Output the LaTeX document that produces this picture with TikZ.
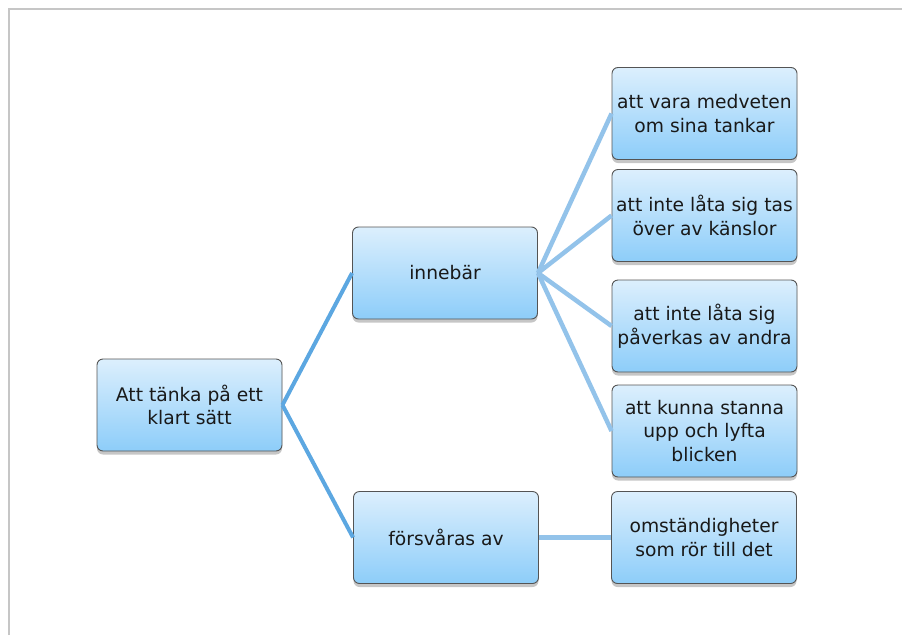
\documentclass[tikz,border=0pt]{standalone}
\usepackage{fontspec}
\setmainfont{DejaVu Sans}
\usetikzlibrary{shadows}
\definecolor{boxtop}{HTML}{DCEFFD}
\definecolor{boxbot}{HTML}{8DCDF9}
\definecolor{boxedge}{HTML}{545454}
\definecolor{linkdark}{HTML}{5CA7E1}
\definecolor{linklight}{HTML}{93C3EA}
\definecolor{frameline}{HTML}{C6C6C6}
\begin{document}
\begin{tikzpicture}[x=1pt,y=-1pt,
  itembox/.style={draw=boxedge, line width=0.9pt, rounded corners=6pt,
    top color=boxtop, bottom color=boxbot,
    minimum width=185pt, minimum height=92pt, align=center,
    text=black!90, inner sep=2pt,
    font=\fontsize{18.7}{23.5}\selectfont,
    drop shadow={shadow xshift=0pt, shadow yshift=-3.5pt, opacity=0.45}},
  linkA/.style={draw=linkdark, line width=4pt},
  linkB/.style={draw=linklight, line width=4.5pt}]
\useasboundingbox (0,0) rectangle (902,635);
% page frame
\draw[frameline, line width=2pt] (9,635) -- (9,9) -- (902,9);

% boxes
\node[itembox] (root) at (189.5,405) {Att tänka på ett\\klart sätt};
\node[itembox] (inneb) at (445,273) {innebär};
\node[itembox] (forsv) at (446,537.5) {försvåras av};
\node[itembox] (r1) at (704.5,113.5) {att vara medveten\\om sina tankar};
\node[itembox] (r2) at (704.5,215.5) {att inte låta sig tas\\över av känslor};
\node[itembox] (r3) at (704.5,326) {att inte låta sig\\påverkas av andra};
\node[itembox] (r4) at (704.5,431) {att kunna stanna\\upp och lyfta\\blicken};
\node[itembox] (r5) at (704,537.5) {omständigheter\\som rör till det};

% connectors
\draw[linkA] (root.east) -- (inneb.west);
\draw[linkA] (root.east) -- (forsv.west);
\draw[linkB] (inneb.east) -- (r1.west);
\draw[linkB] (inneb.east) -- (r2.west);
\draw[linkB] (inneb.east) -- (r3.west);
\draw[linkB] (inneb.east) -- (r4.west);
\draw[linkB] (forsv.east) -- (r5.west);
\end{tikzpicture}
\end{document}
